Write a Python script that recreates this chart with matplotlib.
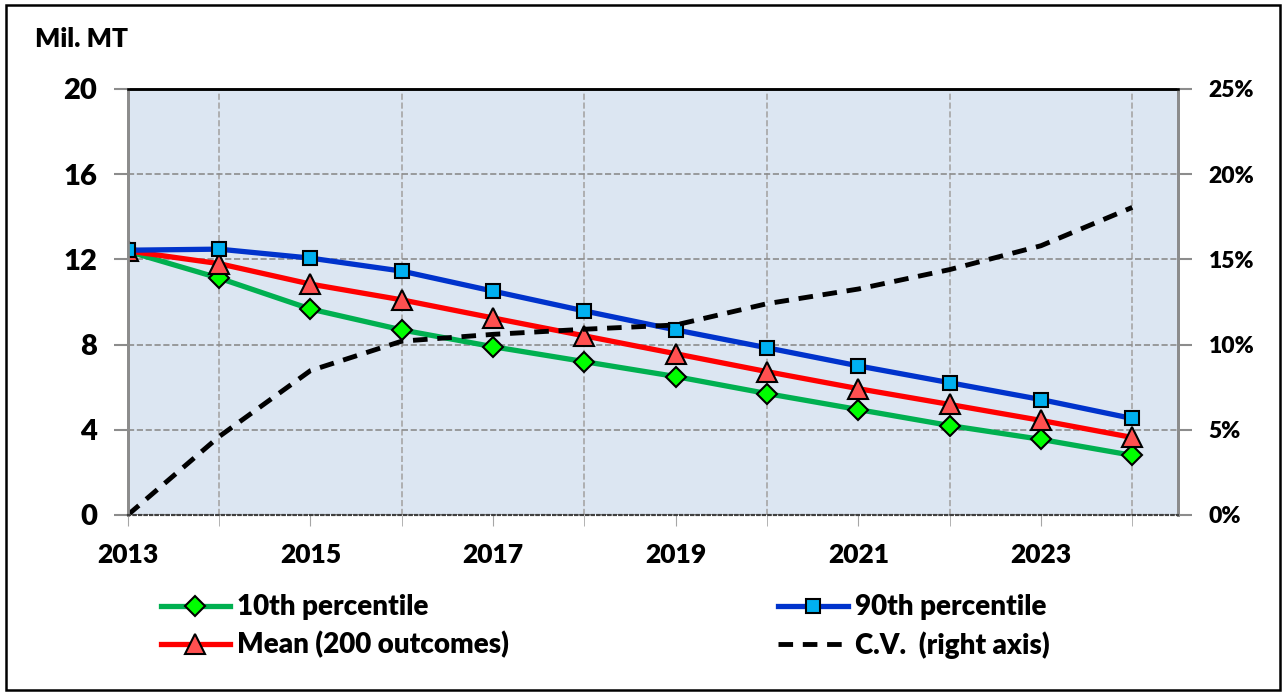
import matplotlib.pyplot as plt
from matplotlib import font_manager
from matplotlib.patches import Rectangle
from matplotlib.ticker import FuncFormatter

# pick the first family that has a heavy face installed
fam_used = 'DejaVu Sans'
for fam in ['Lato', 'Open Sans', 'Roboto', 'Noto Sans', 'Liberation Sans']:
    if any(f.name == fam and isinstance(f.weight, int) and f.weight >= 700
           for f in font_manager.fontManager.ttflist):
        fam_used = fam
        break
plt.rcParams['font.family'] = [fam_used, 'DejaVu Sans']
plt.rcParams['font.weight'] = 'heavy'

# data
years = [2013, 2014, 2015, 2016, 2017, 2018, 2019, 2020, 2021, 2022, 2023, 2024]
p10 = [12.38, 11.12, 9.67, 8.69, 7.90, 7.20, 6.50, 5.70, 4.95, 4.20, 3.55, 2.80]
p90 = [12.43, 12.48, 12.06, 11.45, 10.51, 9.58, 8.69, 7.85, 7.00, 6.21, 5.42, 4.53]
mean = [12.40, 11.80, 10.84, 10.10, 9.25, 8.41, 7.57, 6.73, 5.93, 5.19, 4.44, 3.64]
cv = [0.0, 4.6, 8.47, 10.2, 10.6, 10.9, 11.15, 12.4, 13.26, 14.4, 15.8, 18.05]

fig = plt.figure(figsize=(12.84, 6.95), dpi=100)
ax = fig.add_axes([0.0995, 0.259, 0.8179, 0.613])
ax.set_facecolor('#dce6f2')

ax.plot(years, p10, color='#00b050', lw=3.8, marker='D', ms=10,
        mfc='#00ff00', mec='black', mew=1.5, label='10th percentile', zorder=3)
ax.plot(years, mean, color='#ff0000', lw=3.8, marker='^', ms=14,
        mfc='#ff5050', mec='black', mew=1.5, label='Mean (200 outcomes)', zorder=3)
ax.plot(years, p90, color='#0033cc', lw=3.8, marker='s', ms=10,
        mfc='#00b0f0', mec='black', mew=1.5, label='90th percentile', zorder=3)

ax2 = ax.twinx()
ax2.patch.set_visible(False)
cv_line, = ax2.plot(years, cv, color='black', lw=3.5, ls=(0, (3, 2)),
                    label='C.V.  (right axis)')

ax.set_xlim(2013, 2024.5)
ax.set_ylim(0, 20)
ax2.set_ylim(0, 25)

ax.set_xticks(years, minor=True)
ax.set_xticks(years[::2])
ax.set_yticks([0, 4, 8, 12, 16, 20])
ax2.set_yticks([0, 5, 10, 15, 20, 25])
ax2.yaxis.set_major_formatter(FuncFormatter(lambda v, p: f'{v:.0f}%'))

ax.grid(True, which='minor', axis='x', color='#a6a6a6', ls='--', lw=1.2)
ax.grid(True, which='major', axis='y', color='#8c8c8c', ls='--', lw=1.2)
ax.set_axisbelow(True)

ax.tick_params(axis='x', which='both', length=8, color='#a6a6a6', pad=12,
               labelsize=19)
ax.tick_params(axis='y', length=10, color='#8c8c8c', width=1.5, pad=12,
               labelsize=21)
ax2.tick_params(axis='y', length=10, color='#8c8c8c', width=1.5, pad=12,
                labelsize=16.5)
for a in (ax, ax2):
    a.spines['left'].set_color('#8c8c8c')
    a.spines['right'].set_color('#8c8c8c')
    a.spines['left'].set_linewidth(2)
    a.spines['right'].set_linewidth(2)
    a.spines['top'].set_color('black')
    a.spines['top'].set_linewidth(1.8)
    a.spines['bottom'].set_linestyle(':')
    a.spines['bottom'].set_linewidth(1.5)
    a.spines['bottom'].set_color('#404040')

fig.text(0.027, 0.932, 'Mil. MT', fontsize=19)

h, l = ax.get_legend_handles_labels()
handles = [h[0], h[1], h[2], cv_line]
labels = [l[0], l[1], l[2], cv_line.get_label()]
fig.legend(handles, labels, ncol=2, loc='upper left',
           bbox_to_anchor=(0.125, 0.145), bbox_transform=fig.transFigure,
           frameon=False, fontsize=20, handlelength=2.5, handletextpad=0.25,
           columnspacing=9.7, labelspacing=0.4, numpoints=1,
           borderaxespad=0, borderpad=0)

fig.add_artist(Rectangle((6 / 1284, 5 / 695), 1274 / 1284, 685 / 695,
                         transform=fig.transFigure, fill=False,
                         edgecolor='black', lw=1.8))

fig.savefig('out.png', dpi=100)
